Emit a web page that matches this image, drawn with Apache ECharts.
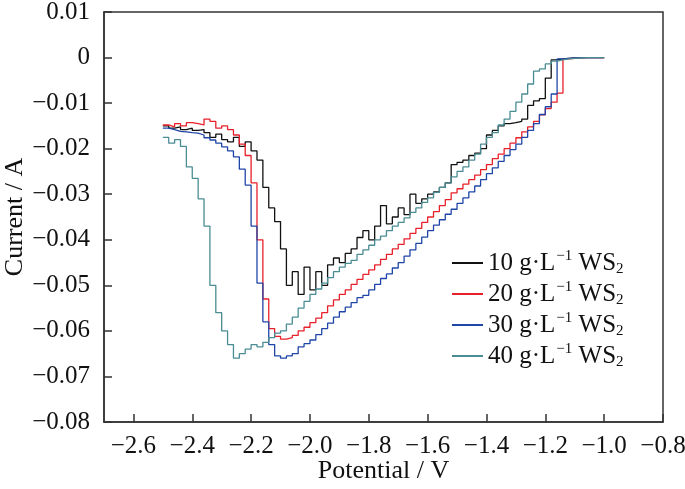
<!DOCTYPE html>
<html>
<head>
<meta charset="utf-8">
<script src="https://cdn.jsdelivr.net/npm/echarts@6/dist/echarts.min.js"></script>
<style>
html,body{margin:0;padding:0;background:#fff;}
#chart{width:685px;height:489px;}
</style>
</head>
<body>
<div id="chart"></div>
<script>
// Potential grid (V), -2.50 to -1.00 step 0.02
var potential = [];
for (var k = 0; k <= 75; k++) { potential.push(+(-2.5 + 0.02 * k).toFixed(2)); }

var xTicks = [-2.6, -2.4, -2.2, -2.0, -1.8, -1.6, -1.4, -1.2, -1.0, -0.8];

var seriesNames = ['10', '20', '30', '40'];

var current10 = [
 -0.0150,-0.0155,-0.0152,-0.0158,-0.0155,-0.0160,-0.0158,-0.0165,-0.0175,-0.0168,
 -0.0180,-0.0185,-0.0175,-0.0195,-0.0185,-0.0205,-0.0225,-0.0285,-0.0330,-0.0360,
 -0.0420,-0.0500,-0.0470,-0.0520,-0.0460,-0.0510,-0.0470,-0.0500,-0.0455,-0.0440,
 -0.0450,-0.0430,-0.0420,-0.0395,-0.0380,-0.0400,-0.0370,-0.0325,-0.0365,-0.0350,
 -0.0330,-0.0345,-0.0300,-0.0320,-0.0310,-0.0300,-0.0295,-0.0285,-0.0275,-0.0235,
 -0.0230,-0.0225,-0.0215,-0.0210,-0.0200,-0.0170,-0.0160,-0.0150,-0.0145,-0.0143,
 -0.0140,-0.0135,-0.0105,-0.0095,-0.0090,-0.0045,-0.0005,-0.0003,-0.0002,-0.0001,
 0,0,0,0,0,0
];
var current20 = [
 -0.0148,-0.0152,-0.0145,-0.0150,-0.0143,-0.0145,-0.0148,-0.0135,-0.0140,-0.0155,
 -0.0150,-0.0158,-0.0170,-0.0190,-0.0215,-0.0275,-0.0400,-0.0530,-0.0595,-0.0612,
 -0.0618,-0.0615,-0.0610,-0.0600,-0.0592,-0.0582,-0.0572,-0.0560,-0.0545,-0.0532,
 -0.0520,-0.0510,-0.0498,-0.0487,-0.0476,-0.0466,-0.0455,-0.0443,-0.0432,-0.0420,
 -0.0410,-0.0398,-0.0386,-0.0375,-0.0362,-0.0350,-0.0338,-0.0325,-0.0312,-0.0297,
 -0.0288,-0.0278,-0.0268,-0.0258,-0.0246,-0.0235,-0.0222,-0.0212,-0.0200,-0.0188,
 -0.0176,-0.0163,-0.0152,-0.0140,-0.0126,-0.0112,-0.0098,-0.0078,-0.0003,-0.0002,
 -0.0001,0,0,0,0,0
];
var current30 = [
 -0.0155,-0.0158,-0.0162,-0.0163,-0.0165,-0.0166,-0.0170,-0.0176,-0.0181,-0.0188,
 -0.0196,-0.0205,-0.0218,-0.0245,-0.0280,-0.0370,-0.0495,-0.0580,-0.0630,-0.0655,
 -0.0660,-0.0655,-0.0650,-0.0635,-0.0628,-0.0620,-0.0608,-0.0595,-0.0583,-0.0570,
 -0.0558,-0.0548,-0.0538,-0.0527,-0.0522,-0.0510,-0.0498,-0.0485,-0.0475,-0.0462,
 -0.0450,-0.0436,-0.0422,-0.0408,-0.0394,-0.0380,-0.0368,-0.0356,-0.0344,-0.0333,
 -0.0320,-0.0308,-0.0295,-0.0282,-0.0268,-0.0255,-0.0242,-0.0228,-0.0215,-0.0202,
 -0.0190,-0.0175,-0.0160,-0.0145,-0.0125,-0.0108,-0.0080,-0.0003,-0.0002,-0.0001,
 0,0,0,0,0,0
];
var current40 = [
 -0.0175,-0.0188,-0.0180,-0.0195,-0.0240,-0.0265,-0.0310,-0.0370,-0.0500,-0.0560,
 -0.0600,-0.0630,-0.0660,-0.0650,-0.0640,-0.0630,-0.0635,-0.0625,-0.0615,-0.0605,
 -0.0600,-0.0585,-0.0570,-0.0550,-0.0535,-0.0520,-0.0508,-0.0495,-0.0483,-0.0470,
 -0.0460,-0.0452,-0.0445,-0.0432,-0.0422,-0.0412,-0.0400,-0.0392,-0.0380,-0.0370,
 -0.0362,-0.0352,-0.0340,-0.0330,-0.0318,-0.0308,-0.0296,-0.0285,-0.0275,-0.0262,
 -0.0250,-0.0240,-0.0225,-0.0212,-0.0190,-0.0175,-0.0165,-0.0148,-0.0135,-0.0118,
 -0.0098,-0.0080,-0.0058,-0.0030,-0.0025,-0.0014,-0.0008,-0.0005,-0.0003,-0.0002,
 -0.0001,0,0,0,0,0
];

var colors = ['#111111', '#e8202a', '#1f45a8', '#4a8c93'];
var currents = [current10, current20, current30, current40];

function pairs(ys) {
  var out = [];
  for (var i = 0; i < potential.length; i++) out.push([potential[i], ys[i]]);
  return out;
}
function minus(s) { return String(s).replace('-', '\u2212'); }

var FONT = "'Liberation Serif', 'Times New Roman', serif";
var FS = 25;
var chart = echarts.init(document.getElementById('chart'), null, {renderer: 'canvas'});

var series = seriesNames.map(function (n, i) {
  return {
    name: n, type: 'line', step: 'end', symbol: 'none',
    data: pairs(currents[i]),
    lineStyle: {color: colors[i], width: 1.3},
    itemStyle: {color: colors[i]},
    z: 2 + i
  };
});

chart.setOption({
  animation: false,
  backgroundColor: '#fff',
  grid: {left: 104, right: 22, top: 12, bottom: 67, outerBoundsMode: 'none', containLabel: false,
    show: true, borderColor: '#333', borderWidth: 1.5, backgroundColor: 'transparent'},
  legend: {
    orient: 'vertical', left: 447, top: 244, itemWidth: 31, itemHeight: 2, itemGap: 3,
    icon: 'rect',
    data: seriesNames,
    formatter: function (n) { return '{t|' + n + ' g\u00b7L}{sup|\u22121}{t| WS}{sub|2}'; },
    textStyle: {
      fontFamily: FONT, fontSize: FS, color: '#111', padding: [0, 0, 0, 0],
      rich: {
        t: {fontFamily: FONT, fontSize: FS, color: '#111', lineHeight: 28},
        sup: {fontFamily: FONT, fontSize: 15, color: '#111', lineHeight: 28, verticalAlign: 'top', padding: [0, 0, 10, 1]},
        sub: {fontFamily: FONT, fontSize: 15, color: '#111', lineHeight: 28, verticalAlign: 'bottom', padding: [8, 0, 0, 0]}
      }
    }
  },
  xAxis: {
    type: 'value', min: -2.7, max: -0.8,
    name: 'Potential / V', nameLocation: 'middle', nameGap: 36, nameMoveOverlap: false,
    nameTextStyle: {fontFamily: FONT, fontSize: 26, color: '#111'},
    axisLine: {show: true, onZero: false, lineStyle: {color: '#333', width: 1.5}},
    axisTick: {show: true, inside: true, length: 8, lineStyle: {color: '#333', width: 1.5}, customValues: xTicks},
    axisLabel: {fontFamily: FONT, fontSize: FS, color: '#111', margin: 12, customValues: xTicks,
      formatter: function (v) { return minus(v.toFixed(1)); }},
    splitLine: {show: false}
  },
  yAxis: {
    type: 'value', min: -0.08, max: 0.01, interval: 0.01,
    name: 'Current / A', nameLocation: 'middle', nameGap: 76, nameRotate: 90, nameMoveOverlap: false,
    nameTextStyle: {fontFamily: FONT, fontSize: 26, color: '#111'},
    axisLine: {show: true, onZero: false, lineStyle: {color: '#333', width: 1.5}},
    axisTick: {show: true, inside: true, length: 8, lineStyle: {color: '#333', width: 1.5}},
    axisLabel: {fontFamily: FONT, fontSize: FS, color: '#111', margin: 14,
      formatter: function (v) { var r = Math.round(v * 100) / 100; return r === 0 ? '0' : minus(r.toFixed(2)); }},
    splitLine: {show: false}
  },
  series: series
});
</script>
</body>
</html>
